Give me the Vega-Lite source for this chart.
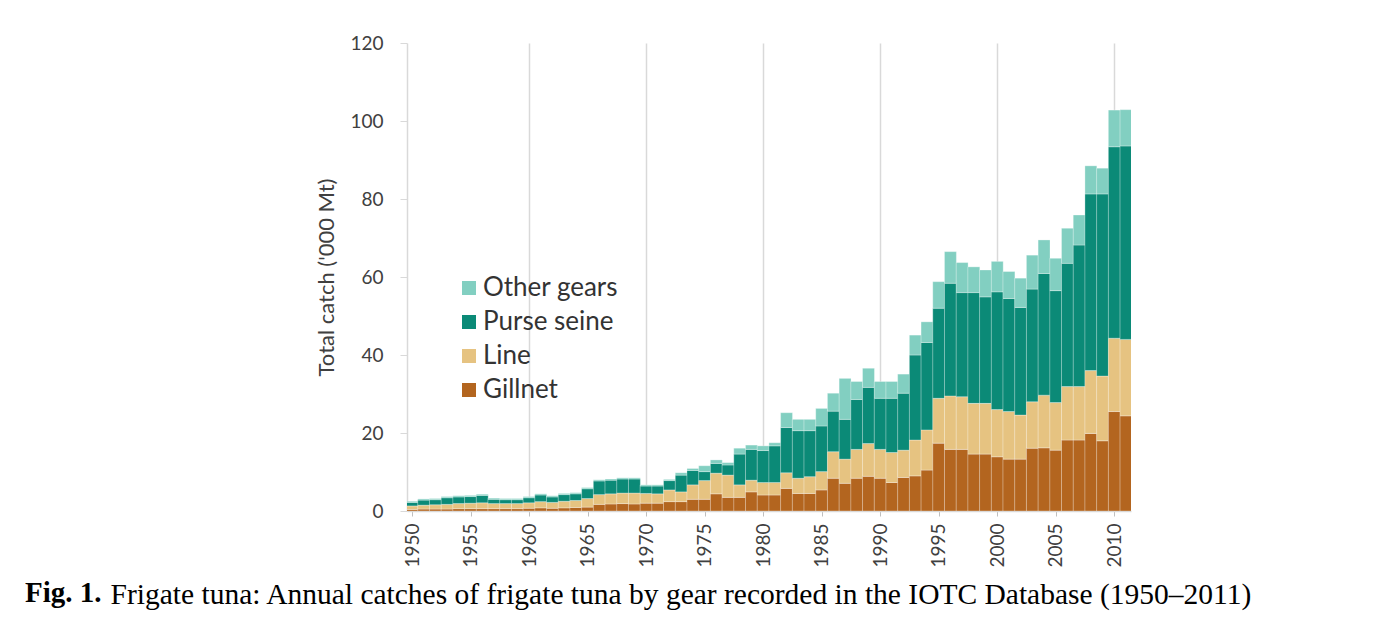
{
  "$schema": "https://vega.github.io/schema/vega-lite/v6.json",
  "width": 724,
  "height": 468,
  "autosize": {"type": "none"},
  "padding": {"left": 407, "top": 43, "right": 261, "bottom": 109},
  "background": "white",
  "config": {"view": {"stroke": null}, "font": "Lato"},
  "title": {
    "text": "Fig. 1.",
    "orient": "bottom",
    "anchor": "start",
    "frame": "group",
    "font": "Liberation Serif",
    "fontSize": 29,
    "fontWeight": "bold",
    "color": "black",
    "baseline": "alphabetic",
    "dx": -382,
    "offset": -7
  },
  "data": {
    "values": [
      {"year": 1950, "Gillnet": 0.4, "Line": 0.9, "Purse seine": 0.9, "Other gears": 0.3},
      {"year": 1951, "Gillnet": 0.5, "Line": 1.0, "Purse seine": 1.3, "Other gears": 0.3},
      {"year": 1952, "Gillnet": 0.5, "Line": 1.1, "Purse seine": 1.3, "Other gears": 0.3},
      {"year": 1953, "Gillnet": 0.5, "Line": 1.2, "Purse seine": 1.7, "Other gears": 0.3},
      {"year": 1954, "Gillnet": 0.6, "Line": 1.3, "Purse seine": 1.7, "Other gears": 0.3},
      {"year": 1955, "Gillnet": 0.6, "Line": 1.4, "Purse seine": 1.7, "Other gears": 0.3},
      {"year": 1956, "Gillnet": 0.6, "Line": 1.5, "Purse seine": 1.9, "Other gears": 0.3},
      {"year": 1957, "Gillnet": 0.6, "Line": 1.3, "Purse seine": 1.1, "Other gears": 0.3},
      {"year": 1958, "Gillnet": 0.6, "Line": 1.3, "Purse seine": 1.0, "Other gears": 0.3},
      {"year": 1959, "Gillnet": 0.6, "Line": 1.3, "Purse seine": 1.0, "Other gears": 0.3},
      {"year": 1960, "Gillnet": 0.7, "Line": 1.4, "Purse seine": 1.3, "Other gears": 0.3},
      {"year": 1961, "Gillnet": 0.8, "Line": 1.6, "Purse seine": 1.7, "Other gears": 0.3},
      {"year": 1962, "Gillnet": 0.7, "Line": 1.5, "Purse seine": 1.4, "Other gears": 0.3},
      {"year": 1963, "Gillnet": 0.8, "Line": 1.7, "Purse seine": 1.7, "Other gears": 0.3},
      {"year": 1964, "Gillnet": 0.9, "Line": 1.8, "Purse seine": 1.7, "Other gears": 0.3},
      {"year": 1965, "Gillnet": 1.0, "Line": 2.2, "Purse seine": 2.5, "Other gears": 0.3},
      {"year": 1966, "Gillnet": 1.7, "Line": 2.5, "Purse seine": 3.5, "Other gears": 0.3},
      {"year": 1967, "Gillnet": 1.8, "Line": 2.6, "Purse seine": 3.5, "Other gears": 0.3},
      {"year": 1968, "Gillnet": 1.9, "Line": 2.7, "Purse seine": 3.6, "Other gears": 0.3},
      {"year": 1969, "Gillnet": 1.8, "Line": 2.8, "Purse seine": 3.6, "Other gears": 0.3},
      {"year": 1970, "Gillnet": 2.0, "Line": 2.5, "Purse seine": 1.9, "Other gears": 0.3},
      {"year": 1971, "Gillnet": 2.0, "Line": 2.4, "Purse seine": 2.0, "Other gears": 0.3},
      {"year": 1972, "Gillnet": 2.4, "Line": 3.0, "Purse seine": 2.4, "Other gears": 0.3},
      {"year": 1973, "Gillnet": 2.4, "Line": 2.5, "Purse seine": 4.3, "Other gears": 0.6},
      {"year": 1974, "Gillnet": 3.0, "Line": 3.7, "Purse seine": 3.7, "Other gears": 0.5},
      {"year": 1975, "Gillnet": 3.0, "Line": 4.8, "Purse seine": 2.3, "Other gears": 1.5},
      {"year": 1976, "Gillnet": 4.4, "Line": 5.3, "Purse seine": 2.5, "Other gears": 0.9},
      {"year": 1977, "Gillnet": 3.5, "Line": 5.7, "Purse seine": 2.6, "Other gears": 0.6},
      {"year": 1978, "Gillnet": 3.5, "Line": 3.2, "Purse seine": 7.9, "Other gears": 1.5},
      {"year": 1979, "Gillnet": 4.9, "Line": 3.0, "Purse seine": 7.9, "Other gears": 1.1},
      {"year": 1980, "Gillnet": 4.1, "Line": 3.2, "Purse seine": 8.2, "Other gears": 1.2},
      {"year": 1981, "Gillnet": 4.1, "Line": 3.2, "Purse seine": 9.4, "Other gears": 0.8},
      {"year": 1982, "Gillnet": 5.8, "Line": 4.0, "Purse seine": 11.6, "Other gears": 3.8},
      {"year": 1983, "Gillnet": 4.5, "Line": 3.9, "Purse seine": 12.2, "Other gears": 2.9},
      {"year": 1984, "Gillnet": 4.5, "Line": 4.3, "Purse seine": 11.8, "Other gears": 2.9},
      {"year": 1985, "Gillnet": 5.4, "Line": 4.7, "Purse seine": 11.7, "Other gears": 4.5},
      {"year": 1986, "Gillnet": 8.4, "Line": 6.8, "Purse seine": 10.4, "Other gears": 4.6},
      {"year": 1987, "Gillnet": 7.1, "Line": 6.2, "Purse seine": 10.2, "Other gears": 10.5},
      {"year": 1988, "Gillnet": 8.4, "Line": 7.4, "Purse seine": 12.8, "Other gears": 4.6},
      {"year": 1989, "Gillnet": 8.9, "Line": 8.4, "Purse seine": 14.4, "Other gears": 4.9},
      {"year": 1990, "Gillnet": 8.4, "Line": 7.4, "Purse seine": 13.1, "Other gears": 4.3},
      {"year": 1991, "Gillnet": 7.3, "Line": 7.7, "Purse seine": 13.9, "Other gears": 4.3},
      {"year": 1992, "Gillnet": 8.6, "Line": 7.0, "Purse seine": 14.6, "Other gears": 4.9},
      {"year": 1993, "Gillnet": 9.0, "Line": 9.2, "Purse seine": 21.8, "Other gears": 5.1},
      {"year": 1994, "Gillnet": 10.5, "Line": 10.3, "Purse seine": 22.4, "Other gears": 5.3},
      {"year": 1995, "Gillnet": 17.4, "Line": 11.5, "Purse seine": 23.1, "Other gears": 6.8},
      {"year": 1996, "Gillnet": 15.8, "Line": 13.7, "Purse seine": 28.9, "Other gears": 8.1},
      {"year": 1997, "Gillnet": 15.8, "Line": 13.5, "Purse seine": 26.7, "Other gears": 7.7},
      {"year": 1998, "Gillnet": 14.6, "Line": 13.0, "Purse seine": 28.4, "Other gears": 6.6},
      {"year": 1999, "Gillnet": 14.6, "Line": 13.0, "Purse seine": 27.3, "Other gears": 6.9},
      {"year": 2000, "Gillnet": 13.9, "Line": 12.1, "Purse seine": 30.2, "Other gears": 7.8},
      {"year": 2001, "Gillnet": 13.3, "Line": 12.2, "Purse seine": 29.0, "Other gears": 6.9},
      {"year": 2002, "Gillnet": 13.3, "Line": 11.3, "Purse seine": 27.6, "Other gears": 7.5},
      {"year": 2003, "Gillnet": 16.1, "Line": 11.9, "Purse seine": 28.9, "Other gears": 8.7},
      {"year": 2004, "Gillnet": 16.2, "Line": 13.5, "Purse seine": 31.2, "Other gears": 8.6},
      {"year": 2005, "Gillnet": 15.6, "Line": 12.2, "Purse seine": 28.7, "Other gears": 8.3},
      {"year": 2006, "Gillnet": 18.2, "Line": 13.7, "Purse seine": 31.6, "Other gears": 9.0},
      {"year": 2007, "Gillnet": 18.2, "Line": 13.7, "Purse seine": 36.3, "Other gears": 7.7},
      {"year": 2008, "Gillnet": 19.9, "Line": 16.1, "Purse seine": 45.3, "Other gears": 7.2},
      {"year": 2009, "Gillnet": 18.0, "Line": 16.6, "Purse seine": 46.7, "Other gears": 6.6},
      {"year": 2010, "Gillnet": 25.5, "Line": 18.8, "Purse seine": 49.1, "Other gears": 9.4},
      {"year": 2011, "Gillnet": 24.4, "Line": 19.6, "Purse seine": 49.6, "Other gears": 9.3}
    ]
  },
  "transform": [
    {"fold": ["Gillnet", "Line", "Purse seine", "Other gears"], "as": ["gear", "catch"]},
    {"window": [{"op": "row_number", "as": "stackRank"}], "groupby": ["year"]}
  ],
  "mark": {"type": "bar", "width": 11.9, "clip": true, "stroke": "white", "strokeWidth": 0.5, "strokeOpacity": 0.6},
  "encoding": {
    "x": {
      "field": "year",
      "type": "quantitative",
      "scale": {"domain": [1950, 2011], "nice": false, "zero": false},
      "axis": {
        "values": [1950, 1955, 1960, 1965, 1970, 1975, 1980, 1985, 1990, 1995, 2000, 2005, 2010],
        "format": "d",
        "labelAngle": -90,
        "labelFont": "Lato",
        "labelFontSize": 19,
        "labelColor": "#404040",
        "labelPadding": 7,
        "tickSize": 5,
        "tickColor": "#bfbfbf",
        "domainColor": "#d9d9d9",
        "domainWidth": 1.5,
        "grid": true,
        "gridColor": "#d9d9d9",
        "gridWidth": 1.5,
        "gridOpacity": {"condition": {"test": "datum.value % 10 === 0 && datum.value > 1950", "value": 1}, "value": 0},
        "title": "Frigate tuna: Annual catches of frigate tuna by gear recorded in the IOTC Database (1950–2011)",
        "titleFont": "Liberation Serif",
        "titleFontSize": 29.5,
        "titleFontWeight": "normal",
        "titleColor": "black",
        "titleX": -297,
        "titleY": 92,
        "titleAlign": "left",
        "titleBaseline": "alphabetic"
      }
    },
    "y": {
      "field": "catch",
      "type": "quantitative",
      "stack": "zero",
      "scale": {"domain": [0, 120], "nice": false},
      "axis": {
        "values": [0, 20, 40, 60, 80, 100, 120],
        "grid": false,
        "labelFont": "Lato",
        "labelFontSize": 19,
        "labelColor": "#404040",
        "labelPadding": 17,
        "tickSize": 7,
        "tickColor": "#d9d9d9",
        "domainColor": "#d9d9d9",
        "domainWidth": 1.5,
        "title": "Total catch ('000 Mt)",
        "titleFont": "Lato",
        "titleFontSize": 22,
        "titleFontWeight": "normal",
        "titleColor": "#404040",
        "titlePadding": 11
      }
    },
    "order": {"field": "stackRank", "type": "quantitative", "sort": "ascending"},
    "color": {
      "field": "gear",
      "type": "nominal",
      "scale": {
        "domain": ["Gillnet", "Line", "Purse seine", "Other gears"],
        "range": ["#b3651f", "#e6c381", "#0b8a77", "#82cfc1"]
      },
      "legend": {
        "values": ["Other gears", "Purse seine", "Line", "Gillnet"],
        "orient": "none",
        "legendX": 49,
        "legendY": 232,
        "title": null,
        "padding": 0,
        "symbolType": "square",
        "symbolSize": 196,
        "symbolStrokeWidth": 0,
        "symbolOpacity": 1,
        "labelFont": "Lato",
        "labelFontSize": 26,
        "labelColor": "#333333",
        "labelOffset": 1,
        "rowPadding": 8
      }
    }
  }
}
